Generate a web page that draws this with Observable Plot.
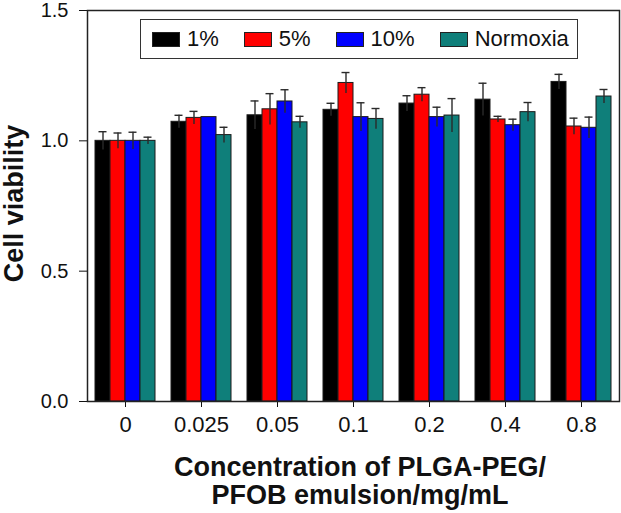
<!DOCTYPE html>
<html>
<head>
<meta charset="utf-8">
<script src="https://cdn.jsdelivr.net/npm/d3@7"></script>
<script src="https://cdn.jsdelivr.net/npm/@observablehq/plot@0.6"></script>
<style>
  html, body { margin: 0; padding: 0; background: #fff; }
  #wrap { position: relative; width: 621px; height: 513px; font-family: "Liberation Sans", Arial, sans-serif; color: #111; }
  #chart svg { display: block; }
  .ylabel { position: absolute; left: -86px; top: 189.5px; width: 200px; height: 27px; line-height: 27px;
            text-align: center; font-weight: bold; font-size: 27px; transform: rotate(-90deg); white-space: nowrap; }
  .xlabel { position: absolute; left: 160px; top: 453px; width: 400px; text-align: center; font-weight: bold;
            font-size: 27px; line-height: 28px; white-space: nowrap; }
  .legend { position: absolute; left: 140px; top: 19px; width: 438px; height: 40px; box-sizing: border-box;
            border: 1px solid #333; background: #fff; display: flex; align-items: center; padding-left: 11px; }
  .item { display: flex; align-items: center; margin-right: 25px; font-size: 22px; }
  .sw { width: 28px; height: 15px; box-sizing: border-box; border: 1px solid #222; margin-right: 7px; }
</style>
</head>
<body>
<div id="wrap">
  <div id="chart"></div>
  <div class="ylabel">Cell viability</div>
  <div class="xlabel">Concentration of PLGA-PEG/<br>PFOB emulsion/mg/mL</div>
  <div class="legend" id="legend"></div>
</div>
<script>
const concentrations = ["0", "0.025", "0.05", "0.1", "0.2", "0.4", "0.8"];
const series = ["1%", "5%", "10%", "Normoxia"];
const colors = ["#000000", "#ff0000", "#0000ff", "#0f7f7a"];
const yTicks = [0, 0.5, 1.0, 1.5];

const values1 = [1.00, 1.073, 1.098, 1.119, 1.143, 1.158, 1.226];
const values5 = [1.00, 1.088, 1.121, 1.222, 1.177, 1.082, 1.055];
const values10 = [1.00, 1.091, 1.151, 1.091, 1.091, 1.060, 1.050];
const valuesN = [1.00, 1.022, 1.071, 1.084, 1.097, 1.110, 1.170];

const errors1 = [0.035, 0.025, 0.055, 0.025, 0.030, 0.063, 0.029];
const errors5 = [0.030, 0.025, 0.060, 0.040, 0.027, 0.012, 0.032];
const errors10 = [0.033, 0.000, 0.045, 0.055, 0.038, 0.023, 0.041];
const errorsN = [0.014, 0.030, 0.023, 0.040, 0.065, 0.037, 0.027];

const values = [values1, values5, values10, valuesN];
const errors = [errors1, errors5, errors10, errorsN];

const rows = concentrations.flatMap((c, i) =>
  series.map((s, j) => ({conc: c, series: s, value: values[j][i], err: errors[j][i]})));

const chart = Plot.plot({
  width: 621,
  height: 513,
  marginLeft: 87,
  marginRight: 2,
  marginTop: 10,
  marginBottom: 112,
  style: {fontFamily: "Liberation Sans, Arial, sans-serif", fontSize: "22px", color: "#111", background: "#fff"},
  fx: {domain: concentrations, padding: 0, label: null, axis: "bottom", tickSize: 6, tickPadding: 9},
  x: {domain: series, paddingInner: 0, paddingOuter: 0.45, axis: null},
  y: {domain: [0, 1.5], label: null},
  color: {domain: series, range: colors},
  marks: [
    Plot.axisY({ticks: yTicks, tickFormat: ".1f", tickSize: 8, tickPadding: 11, fontSize: 20, label: null}),
    Plot.barY(rows, {fx: "conc", x: "series", y: "value", fill: "series", stroke: "#1a1a1a", strokeWidth: 1}),
    Plot.ruleX(rows, {fx: "conc", x: "series", y1: d => d.value - d.err, y2: d => d.value + d.err, stroke: "#2a2a2a", strokeWidth: 1.4}),
    Plot.tickY(rows.filter(d => d.err > 0), {fx: "conc", x: "series", y: d => d.value + d.err, inset: 3.5, stroke: "#2a2a2a", strokeWidth: 1.4}),
    Plot.frame({facet: "super", stroke: "#222", strokeWidth: 1.5})
  ]
});
document.getElementById("chart").append(chart);

const legend = document.getElementById("legend");
series.forEach((s, i) => {
  const item = document.createElement("div");
  item.className = "item";
  const sw = document.createElement("div");
  sw.className = "sw";
  sw.style.background = colors[i];
  const t = document.createElement("span");
  t.textContent = s;
  item.append(sw, t);
  legend.append(item);
});
</script>
</body>
</html>
